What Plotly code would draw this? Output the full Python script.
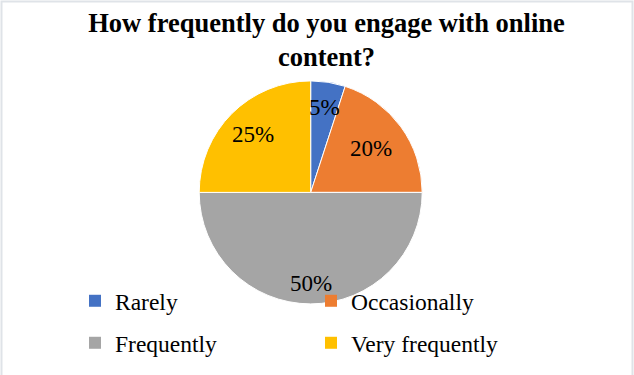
import math
import plotly.graph_objects as go

# ---- data ----
categories = ["Rarely", "Occasionally", "Frequently", "Very frequently"]
values = [5, 20, 50, 25]
pct_labels = ["5%", "20%", "50%", "25%"]

# ---- style ----
colors = ["#4472C4", "#ED7D31", "#A5A5A5", "#FFC000"]
label_radius = [0.775, 0.67, 0.82, 0.735]   # radial position of value labels (fraction of R)
W, H = 634, 375
SERIF = "Liberation Serif, Times New Roman, serif"

# pie geometry in pixels
cx, cy, R = 310.7, 192.4, 111.5
dom_x = [(cx - R) / W, (cx + R) / W]
dom_y = [(H - (cy + R)) / H, (H - (cy - R)) / H]

fig = go.Figure()

# legend carriers (tiny pies hidden beneath the main pie), one per legend row
tiny_x = [cx / W - 0.0004, cx / W + 0.0004]
tiny_y = [(H - cy) / H - 0.0004, (H - cy) / H + 0.0004]
for lg, sl in (("legend", slice(0, 2)), ("legend2", slice(2, 4))):
    fig.add_trace(go.Pie(
        labels=categories[sl], values=values[sl],
        marker=dict(colors=colors[sl]),
        domain=dict(x=tiny_x, y=tiny_y),
        sort=False, textinfo="none", hoverinfo="skip",
        showlegend=True, legend=lg,
    ))

# main pie
fig.add_trace(go.Pie(
    labels=categories, values=values,
    marker=dict(colors=colors, line=dict(color="white", width=1)),
    domain=dict(x=dom_x, y=dom_y),
    sort=False, direction="clockwise", rotation=0,
    textinfo="none", hoverinfo="label+percent",
    showlegend=False,
))

# value labels placed from the data (mid-angle of each slice)
total = sum(values)
cum = 0
annotations = []
for v, txt, rf in zip(values, pct_labels, label_radius):
    mid = (cum + v / 2) / total * 2 * math.pi
    cum += v
    px = cx + rf * R * math.sin(mid)
    py = cy - rf * R * math.cos(mid)
    annotations.append(dict(
        x=px / W, y=(H - py) / H, xref="paper", yref="paper",
        text=txt, showarrow=False, xanchor="center", yanchor="middle",
        font=dict(family=SERIF, size=23, color="#000000"),
    ))

legend_common = dict(
    orientation="h", xanchor="left", yanchor="top",
    entrywidth=191, entrywidthmode="pixels",
    font=dict(family=SERIF, size=23.5, color="#000000"),
    bgcolor="rgba(0,0,0,0)", itemclick=False, itemdoubleclick=False,
)

fig.update_layout(
    width=W, height=H, autosize=False,
    margin=dict(l=0, r=0, t=0, b=0),
    paper_bgcolor="white", plot_bgcolor="white",
    title=dict(
        text="<b>How frequently do you engage with online<br>content?</b>",
        x=326.5 / W, xanchor="center", y=1 - 32 / H, yanchor="top",
        yref="container", xref="paper",
        font=dict(family=SERIF, size=26.5, color="#000000"),
    ),
    legend=dict(x=75 / W, y=(H - 279) / H, **legend_common),
    legend2=dict(x=75 / W, y=(H - 321) / H, **legend_common),
    annotations=annotations,
    shapes=[dict(
        type="rect", xref="paper", yref="paper",
        x0=1.5 / W, x1=(W - 1.5) / W, y0=-0.02, y1=1 - 1.5 / H,
        line=dict(color="#DFE3E8", width=2), fillcolor="rgba(0,0,0,0)",
        layer="above",
    )],
)

fig.write_html("out.html")
